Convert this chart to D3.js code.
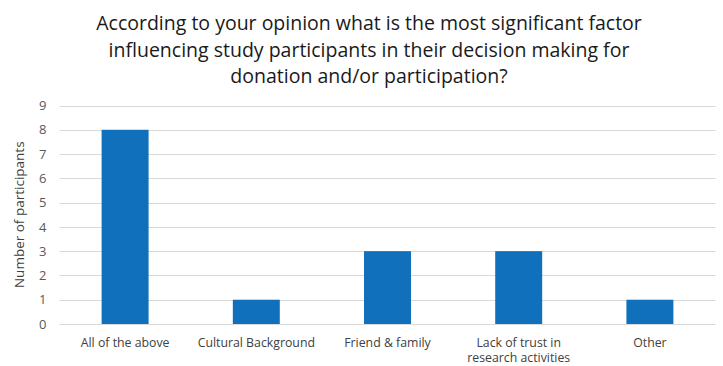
<!DOCTYPE html>
<html>
<head>
<meta charset="utf-8">
<script src="https://cdn.jsdelivr.net/npm/d3@7"></script>
<style>
  html, body { margin: 0; padding: 0; background: #fff; }
  svg { display: block; font-family: "Open Sans", "Noto Sans", sans-serif; }
</style>
</head>
<body>
<svg id="chart" width="723" height="366"></svg>
<script>
// Survey responses: most significant factor in participants' decisions
const categories = [
  ["All of the above"],
  ["Cultural Background"],
  ["Friend & family"],
  ["Lack of trust in", "research activities"],
  ["Other"]
];
const counts = [8, 1, 3, 3, 1];
const yTicks = [0, 1, 2, 3, 4, 5, 6, 7, 8, 9];
const titleLines = [
  "According to your opinion what is the most significant factor",
  "influencing study participants in their decision making for",
  "donation and/or participation?"
];
const yAxisTitle = "Number of participants";

const svg = d3.select("#chart");
const plot = { left: 59.5, right: 715.5, top: 105.5, bottom: 324 };

const x = d3.scaleBand()
  .domain(d3.range(categories.length))
  .range([plot.left, plot.right])
  .paddingInner(0.642)
  .paddingOuter(0.321);

const y = d3.scaleLinear()
  .domain([0, 9])
  .range([plot.bottom, plot.top]);

// horizontal gridlines
svg.append("g")
  .selectAll("line")
  .data(yTicks)
  .join("line")
  .attr("x1", plot.left)
  .attr("x2", plot.right)
  .attr("y1", d => Math.round(y(d)) + 0.5)
  .attr("y2", d => Math.round(y(d)) + 0.5)
  .attr("stroke", "#d9d9d9")
  .attr("stroke-width", 1);

// bars
svg.append("g")
  .selectAll("rect")
  .data(counts)
  .join("rect")
  .attr("x", (d, i) => x(i))
  .attr("width", x.bandwidth())
  .attr("y", d => y(d))
  .attr("height", d => y(0) - y(d))
  .attr("fill", "#1170bb");

// y-axis tick labels
const yAxis = d3.axisLeft(y).tickValues(yTicks).tickSize(0).tickPadding(0);
const gy = svg.append("g")
  .attr("transform", `translate(${plot.left - 13},0)`)
  .call(yAxis);
gy.select(".domain").remove();
gy.selectAll("text")
  .attr("fill", "#595959")
  .style("font-size", "13px")
  .style("font-family", "'Open Sans', sans-serif");

// category labels
const xl = svg.append("g");
categories.forEach((lines, i) => {
  const cx = x(i) + x.bandwidth() / 2;
  const t = xl.append("text")
    .attr("x", cx)
    .attr("y", 346.5)
    .attr("text-anchor", "middle")
    .attr("fill", "#404040")
    .style("font-size", "12.3px");
  lines.forEach((ln, j) => {
    t.append("tspan")
      .attr("x", cx)
      .attr("dy", j === 0 ? 0 : 15.5)
      .text(ln);
  });
});

// y-axis title
svg.append("text")
  .attr("transform", `translate(24,${(plot.top + plot.bottom) / 2}) rotate(-90)`)
  .attr("text-anchor", "middle")
  .attr("fill", "#404040")
  .style("font-size", "13.5px")
  .text(yAxisTitle);

// chart title
const titleY = [29.5, 56.5, 83];
svg.append("g")
  .selectAll("text")
  .data(titleLines)
  .join("text")
  .attr("x", 369)
  .attr("y", (d, i) => titleY[i])
  .attr("text-anchor", "middle")
  .attr("fill", "#1a1a1a")
  .style("font-size", "19.5px")
  .text(d => d);
</script>
</body>
</html>
